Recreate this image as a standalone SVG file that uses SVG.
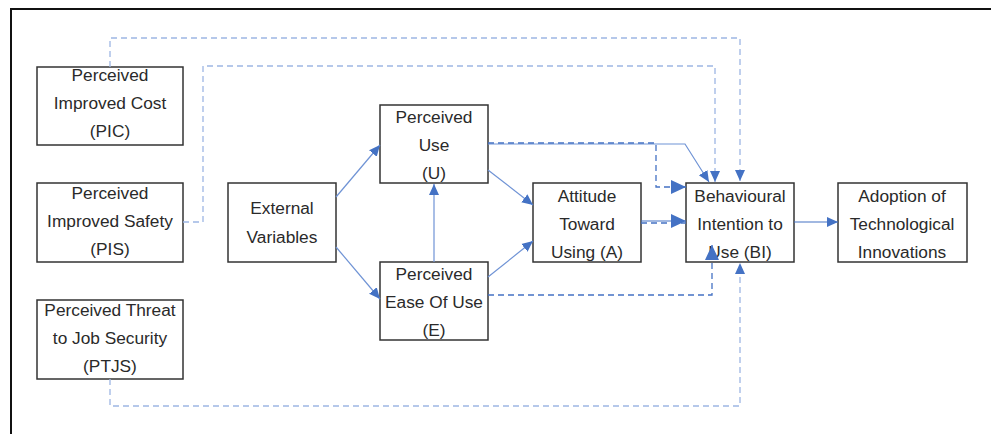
<svg xmlns="http://www.w3.org/2000/svg" width="991" height="434" viewBox="0 0 991 434">
<style>
.box{fill:#fff;stroke:#333;stroke-width:1.5}
.t{font-family:"Liberation Sans",Arial,sans-serif;font-size:17.3px;fill:#2a2a2a;text-anchor:middle}
.s{fill:none;stroke:#4472C4;stroke-width:1.2}
.sl{fill:none;stroke:#6F93D5;stroke-width:1.2}
.d{fill:none;stroke:#4472C4;stroke-width:1.3;stroke-dasharray:6 4}
.dl{fill:none;stroke:#9DB6E4;stroke-width:1.3;stroke-dasharray:6 4}
</style>
<defs>
<marker id="a" markerUnits="userSpaceOnUse" markerWidth="12" markerHeight="12" viewBox="0 0 12 12" refX="11" refY="6" orient="auto">
<path d="M0,1 L11,6 L0,11 Z" fill="#4472C4"/>
</marker>
<marker id="b" markerUnits="userSpaceOnUse" markerWidth="16" markerHeight="16" viewBox="0 0 16 16" refX="15" refY="8" orient="auto">
<path d="M0,1 L15,8 L0,15 Z" fill="#4472C4"/>
</marker>
</defs>
<rect width="991" height="434" fill="#fff"/>
<path d="M11,434 V9 H991" fill="none" stroke="#111" stroke-width="2"/>
<g id="PIC"><rect class="box" x="37" y="67" width="146" height="78"/>
<text class="t" x="110" y="81">Perceived</text><text class="t" x="110" y="109">Improved Cost</text><text class="t" x="110" y="137">(PIC)</text></g>
<g id="PIS"><rect class="box" x="37" y="183" width="146" height="79"/>
<text class="t" x="110" y="199">Perceived</text><text class="t" x="110" y="227">Improved Safety</text><text class="t" x="110" y="255">(PIS)</text></g>
<g id="PTJS"><rect class="box" x="37" y="300" width="146" height="79"/>
<text class="t" x="110" y="316">Perceived Threat</text><text class="t" x="110" y="344">to Job Security</text><text class="t" x="110" y="372">(PTJS)</text></g>
<g id="EV"><rect class="box" x="228" y="183" width="108" height="79"/>
<text class="t" x="282" y="214">External</text><text class="t" x="282" y="243">Variables</text></g>
<g id="PU"><rect class="box" x="380" y="105" width="108" height="78"/>
<text class="t" x="434" y="123">Perceived</text><text class="t" x="434" y="151">Use</text><text class="t" x="434" y="179">(U)</text></g>
<g id="PEOU"><rect class="box" x="380" y="262" width="108" height="78"/>
<text class="t" x="434" y="280">Perceived</text><text class="t" x="434" y="308">Ease Of Use</text><text class="t" x="434" y="336">(E)</text></g>
<g id="ATT"><rect class="box" x="533" y="183" width="108" height="79"/>
<text class="t" x="587" y="202">Attitude</text><text class="t" x="587" y="230">Toward</text><text class="t" x="587" y="258">Using (A)</text></g>
<g id="BI"><rect class="box" x="686" y="183" width="108" height="79"/>
<text class="t" x="740" y="202">Behavioural</text><text class="t" x="740" y="230">Intention to</text><text class="t" x="740" y="258">Use (BI)</text></g>
<g id="ADOPT"><rect class="box" x="838" y="183" width="129" height="79"/>
<text class="t" x="902" y="202">Adoption of</text><text class="t" x="902" y="230">Technological</text><text class="t" x="902" y="258">Innovations</text></g>
<g id="connectors">
<path class="sl" d="M336,197 L380,145" marker-end="url(#a)"/>
<path class="sl" d="M336,247 L380,299" marker-end="url(#a)"/>
<path class="sl" d="M434,262 V184" marker-end="url(#a)"/>
<path class="sl" d="M488,170 L533,205" marker-end="url(#a)"/>
<path class="sl" d="M488,277 L533,241" marker-end="url(#a)"/>
<path class="sl" d="M488,144 H685 L709,182" marker-end="url(#a)"/>
<path class="d" d="M488,143 H656 V187 H686" marker-end="url(#b)"/>
<path class="s" d="M641,221 H686" marker-end="url(#b)"/>
<path class="d" d="M641,223 H686"/>
<path class="d" d="M488,295 H712 V245" marker-end="url(#b)"/>
<path class="s" d="M794,222 H838" marker-end="url(#a)"/>
<path class="dl" d="M110,67 V38 H740 V181" marker-end="url(#a)"/>
<path class="dl" d="M183,222 H203 V66 H715 V182" marker-end="url(#a)"/>
<path class="dl" d="M110,379 V406 H740 V263" marker-end="url(#a)"/>
</g>
</svg>
